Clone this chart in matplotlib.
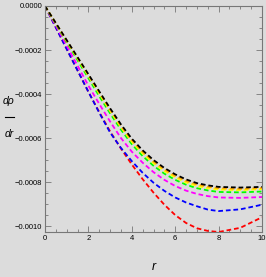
import numpy as np
import matplotlib
matplotlib.use("Agg")
import matplotlib.pyplot as plt
from matplotlib.ticker import MultipleLocator, FuncFormatter

# values
r = [0, 1, 2, 2.5, 3, 3.5, 4, 4.5, 5, 5.5, 6, 6.5, 7, 7.5, 8, 9, 10]
red = [0, -0.000195, -0.00039, -0.000482, -0.00057, -0.000648, -0.00072, -0.000787, -0.000848,
       -0.000903, -0.00095, -0.000986, -0.00101, -0.001022, -0.001027, -0.001008, -0.00096]
blue = [0, -0.000196, -0.00039, -0.000485, -0.000575, -0.000645, -0.000705, -0.000758, -0.000803,
        -0.00084, -0.00087, -0.000893, -0.00091, -0.000925, -0.000932, -0.000924, -0.000903]
magenta = [0, -0.00018, -0.000362, -0.000445, -0.000525, -0.0006, -0.000662, -0.000712, -0.000755,
           -0.00079, -0.000818, -0.000839, -0.000854, -0.000864, -0.00087, -0.000872, -0.000868]
green = [0, -0.000165, -0.000328, -0.00041, -0.000488, -0.000562, -0.000628, -0.000682, -0.000726,
         -0.000762, -0.00079, -0.000812, -0.000828, -0.000838, -0.000845, -0.000847, -0.000843]
yellow = [0, -0.000159, -0.000318, -0.000398, -0.000477, -0.000551, -0.000617, -0.00067, -0.000714,
          -0.00075, -0.000779, -0.000802, -0.000818, -0.000828, -0.000834, -0.000837, -0.000832]
orange = [0, -0.000157, -0.000314, -0.000393, -0.000471, -0.000545, -0.00061, -0.000663, -0.000707,
          -0.000743, -0.000772, -0.000795, -0.000811, -0.000821, -0.000828, -0.000831, -0.000827]
black = [0, -0.000155, -0.00031, -0.000388, -0.000465, -0.000538, -0.000603, -0.000656, -0.0007,
         -0.000736, -0.000765, -0.000788, -0.000805, -0.000815, -0.000822, -0.000825, -0.000822]

series = [(red, "#ff0000"), (blue, "#0000ff"), (magenta, "#ff00ff"), (green, "#00ff00"),
          (yellow, "#ffff00"), (orange, "#ffa500"), (black, "#000000")]

BG = "#dcdcdc"
plt.rcParams['font.family'] = ['Liberation Sans', 'DejaVu Sans']

fig = plt.figure(figsize=(2.66, 2.77), dpi=100, facecolor=BG)
ax = fig.add_axes([45/266, 1-232/277, 217/266, 226/277])
ax.set_facecolor(BG)

for ys, c in series:
    ax.plot(r, ys, color=c, lw=1.3, dashes=(2.6, 1.6))

ax.set_xlim(0, 10)
ax.set_ylim(-0.001027, 0)
ax.xaxis.set_major_locator(MultipleLocator(2))
ax.xaxis.set_minor_locator(MultipleLocator(0.5))
ax.yaxis.set_major_locator(MultipleLocator(0.0002))
ax.yaxis.set_minor_locator(MultipleLocator(0.00005))
ax.yaxis.set_major_formatter(FuncFormatter(lambda v, p: ("%.4f" % v).replace("-", "\u2212") if abs(v) > 1e-9 else "0.0000"))

for s in ax.spines.values():
    s.set_color('#777777')
    s.set_linewidth(0.8)
ax.tick_params(which='both', direction='in', top=True, right=True, colors='#777777',
               labelcolor='black', labelsize=5.5, width=0.6)
ax.tick_params(which='major', length=4, pad=2)
ax.tick_params(which='minor', length=2)

ax.text(0.5, -0.155, "r", transform=ax.transAxes, fontsize=9, style='italic', ha='center', va='center')
fig.text(9/266, 1-101/277, "dρ", fontsize=7.5, style='italic', ha='center', va='center')
fig.add_artist(plt.Line2D([5/266, 14/266], [1-117/277, 1-117/277], color='black', lw=0.8))
fig.text(9/266, 1-134/277, "dr", fontsize=7.5, style='italic', ha='center', va='center')

fig.savefig("out.png", dpi=100, facecolor=BG)
